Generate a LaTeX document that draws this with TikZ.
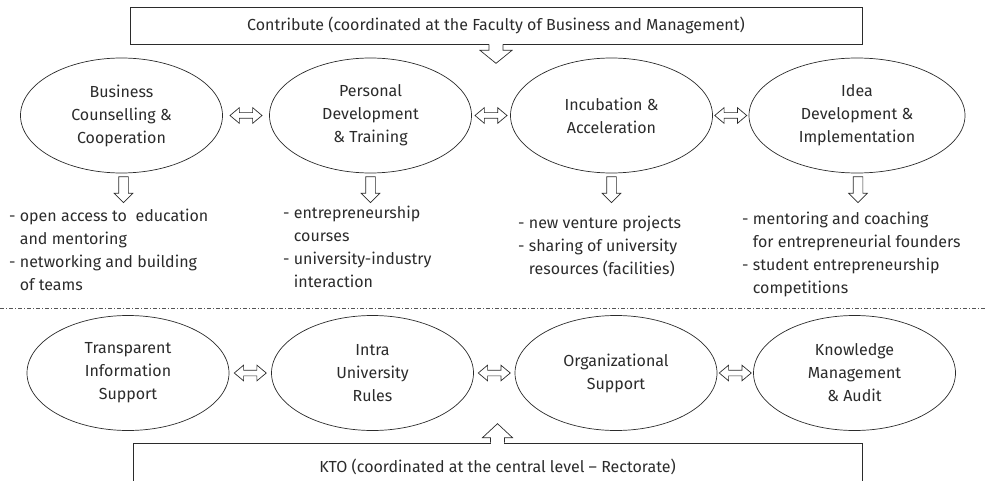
\documentclass[tikz,border=0pt]{standalone}
\usepackage{fontspec}
\setmainfont{Fira Sans}
\usetikzlibrary{shapes.geometric, shapes.arrows, calc, positioning}
\definecolor{ink}{HTML}{2B2B2B}
\newcommand{\ctd}{\hphantom{-\ }}

\begin{document}
\begin{tikzpicture}[x=1pt, y=1pt,
    every node/.style={font=\fontsize{16}{23}\selectfont, text=ink},
    unit/.style={draw=ink, line width=0.7pt, ellipse, minimum width=202, minimum height=115, inner sep=0, align=center},
    banner/.style={draw=ink, line width=0.7pt, rectangle, inner sep=0},
    link/.style={draw=ink, line width=0.7pt, double arrow, double arrow head extend=5, double arrow tip angle=80, minimum height=32, minimum width=15, inner sep=2.5},
    outarrow/.style={draw=ink, line width=0.7pt, single arrow, single arrow head extend=4.5, single arrow tip angle=90, minimum height=26, minimum width=18, inner sep=4.5, shape border rotate=270},
    list/.style={anchor=north west, align=left, inner sep=0}]
    \clip (0,0) rectangle (987,480);

    \node[banner, minimum width=732, minimum height=37] (contrib) at (496,454.5) {Contribute (coordinated at the Faculty of Business and Management)};
    \fill[white] ($(contrib.south)+(-6.6,1)$) rectangle ($(contrib.south)+(6.6,-1)$);
    \draw[ink, line width=0.7pt] ($(contrib.south)+(-7,0)$) -- ++(0,-6) -- ++(-9,0) -- ($(contrib.south)+(0,-19)$) -- ($(contrib.south)+(16,-6)$) -- ++(-9,0) -- ++(0,6);

    \node[unit] (bcc) at (121.5,364.5) {Business\\Counselling \&\\Cooperation};
    \node[unit] (pdt) at (370.5,364.5) {Personal\\Development\\\& Training};
    \node[unit] (inc) at (611.5,364.5) {Incubation \&\\Acceleration};
    \node[unit, minimum width=216] (idi) at (857,364.5) {Idea\\Development \&\\Implementation};

    \node[link] (l12) at ($(bcc.east)!0.5!(pdt.west)$) {};
    \node[link] (l23) at ($(pdt.east)!0.5!(inc.west)$) {};
    \node[link] (l34) at ($(inc.east)!0.5!(idi.west)$) {};

    \node[outarrow, anchor=tail] (o1) at ($(bcc.south)+(2,-3)$) {};
    \node[outarrow, anchor=tail] (o2) at ($(pdt.south)+(0,-3)$) {};
    \node[outarrow, anchor=tail] (o3) at ($(inc.south)+(0,-3)$) {};
    \node[outarrow, anchor=tail] (o4) at ($(idi.south)+(1,-3)$) {};

    \node[list] (t1) at (9,271) {- open access to~~education\\\ctd and mentoring\\- networking and building\\\ctd of teams};
    \node[list] (t2) at (283,274) {- entrepreneurship\\\ctd courses\\- university-industry\\\ctd interaction};
    \node[list] (t3) at (518,264) {- new venture projects\\- sharing of university\\\ctd resources (facilities)};
    \node[list] (t4) at (742,268) {- mentoring and coaching\\\ctd for entrepreneurial founders\\- student entrepreneurship\\\ctd competitions};

    \draw[ink!80, line width=0.6pt, dash pattern=on 4pt off 2pt on 1pt off 2pt] (0,172) -- (987,172);

    \node[unit] (tis) at (128,107) {Transparent\\Information\\Support};
    \node[unit] (iur) at (372.5,107) {Intra\\University\\Rules};
    \node[unit] (ors) at (616,107) {Organizational\\Support};
    \node[unit] (kma) at (854.5,107) {Knowledge\\Management\\\& Audit};

    \node[link] (l56) at ($(tis.east)!0.5!(iur.west)$) {};
    \node[link] (l67) at ($(iur.east)!0.5!(ors.west)$) {};
    \node[link] (l78) at ($(ors.east)!0.5!(kma.west)$) {};

    \node[banner, minimum width=729, minimum height=48] (kto) at (497.5,13) {KTO (coordinated at the central level -- Rectorate)};
    \fill[white] ($(kto.north)+(-6.6,1)$) rectangle ($(kto.north)+(6.6,-1)$);
    \draw[ink, line width=0.7pt] ($(kto.north)+(-7,0)$) -- ++(0,5) -- ++(-8,0) -- ($(kto.north)+(0,19)$) -- ($(kto.north)+(15,5)$) -- ++(-8,0) -- ++(0,-5);
\end{tikzpicture}
\end{document}
